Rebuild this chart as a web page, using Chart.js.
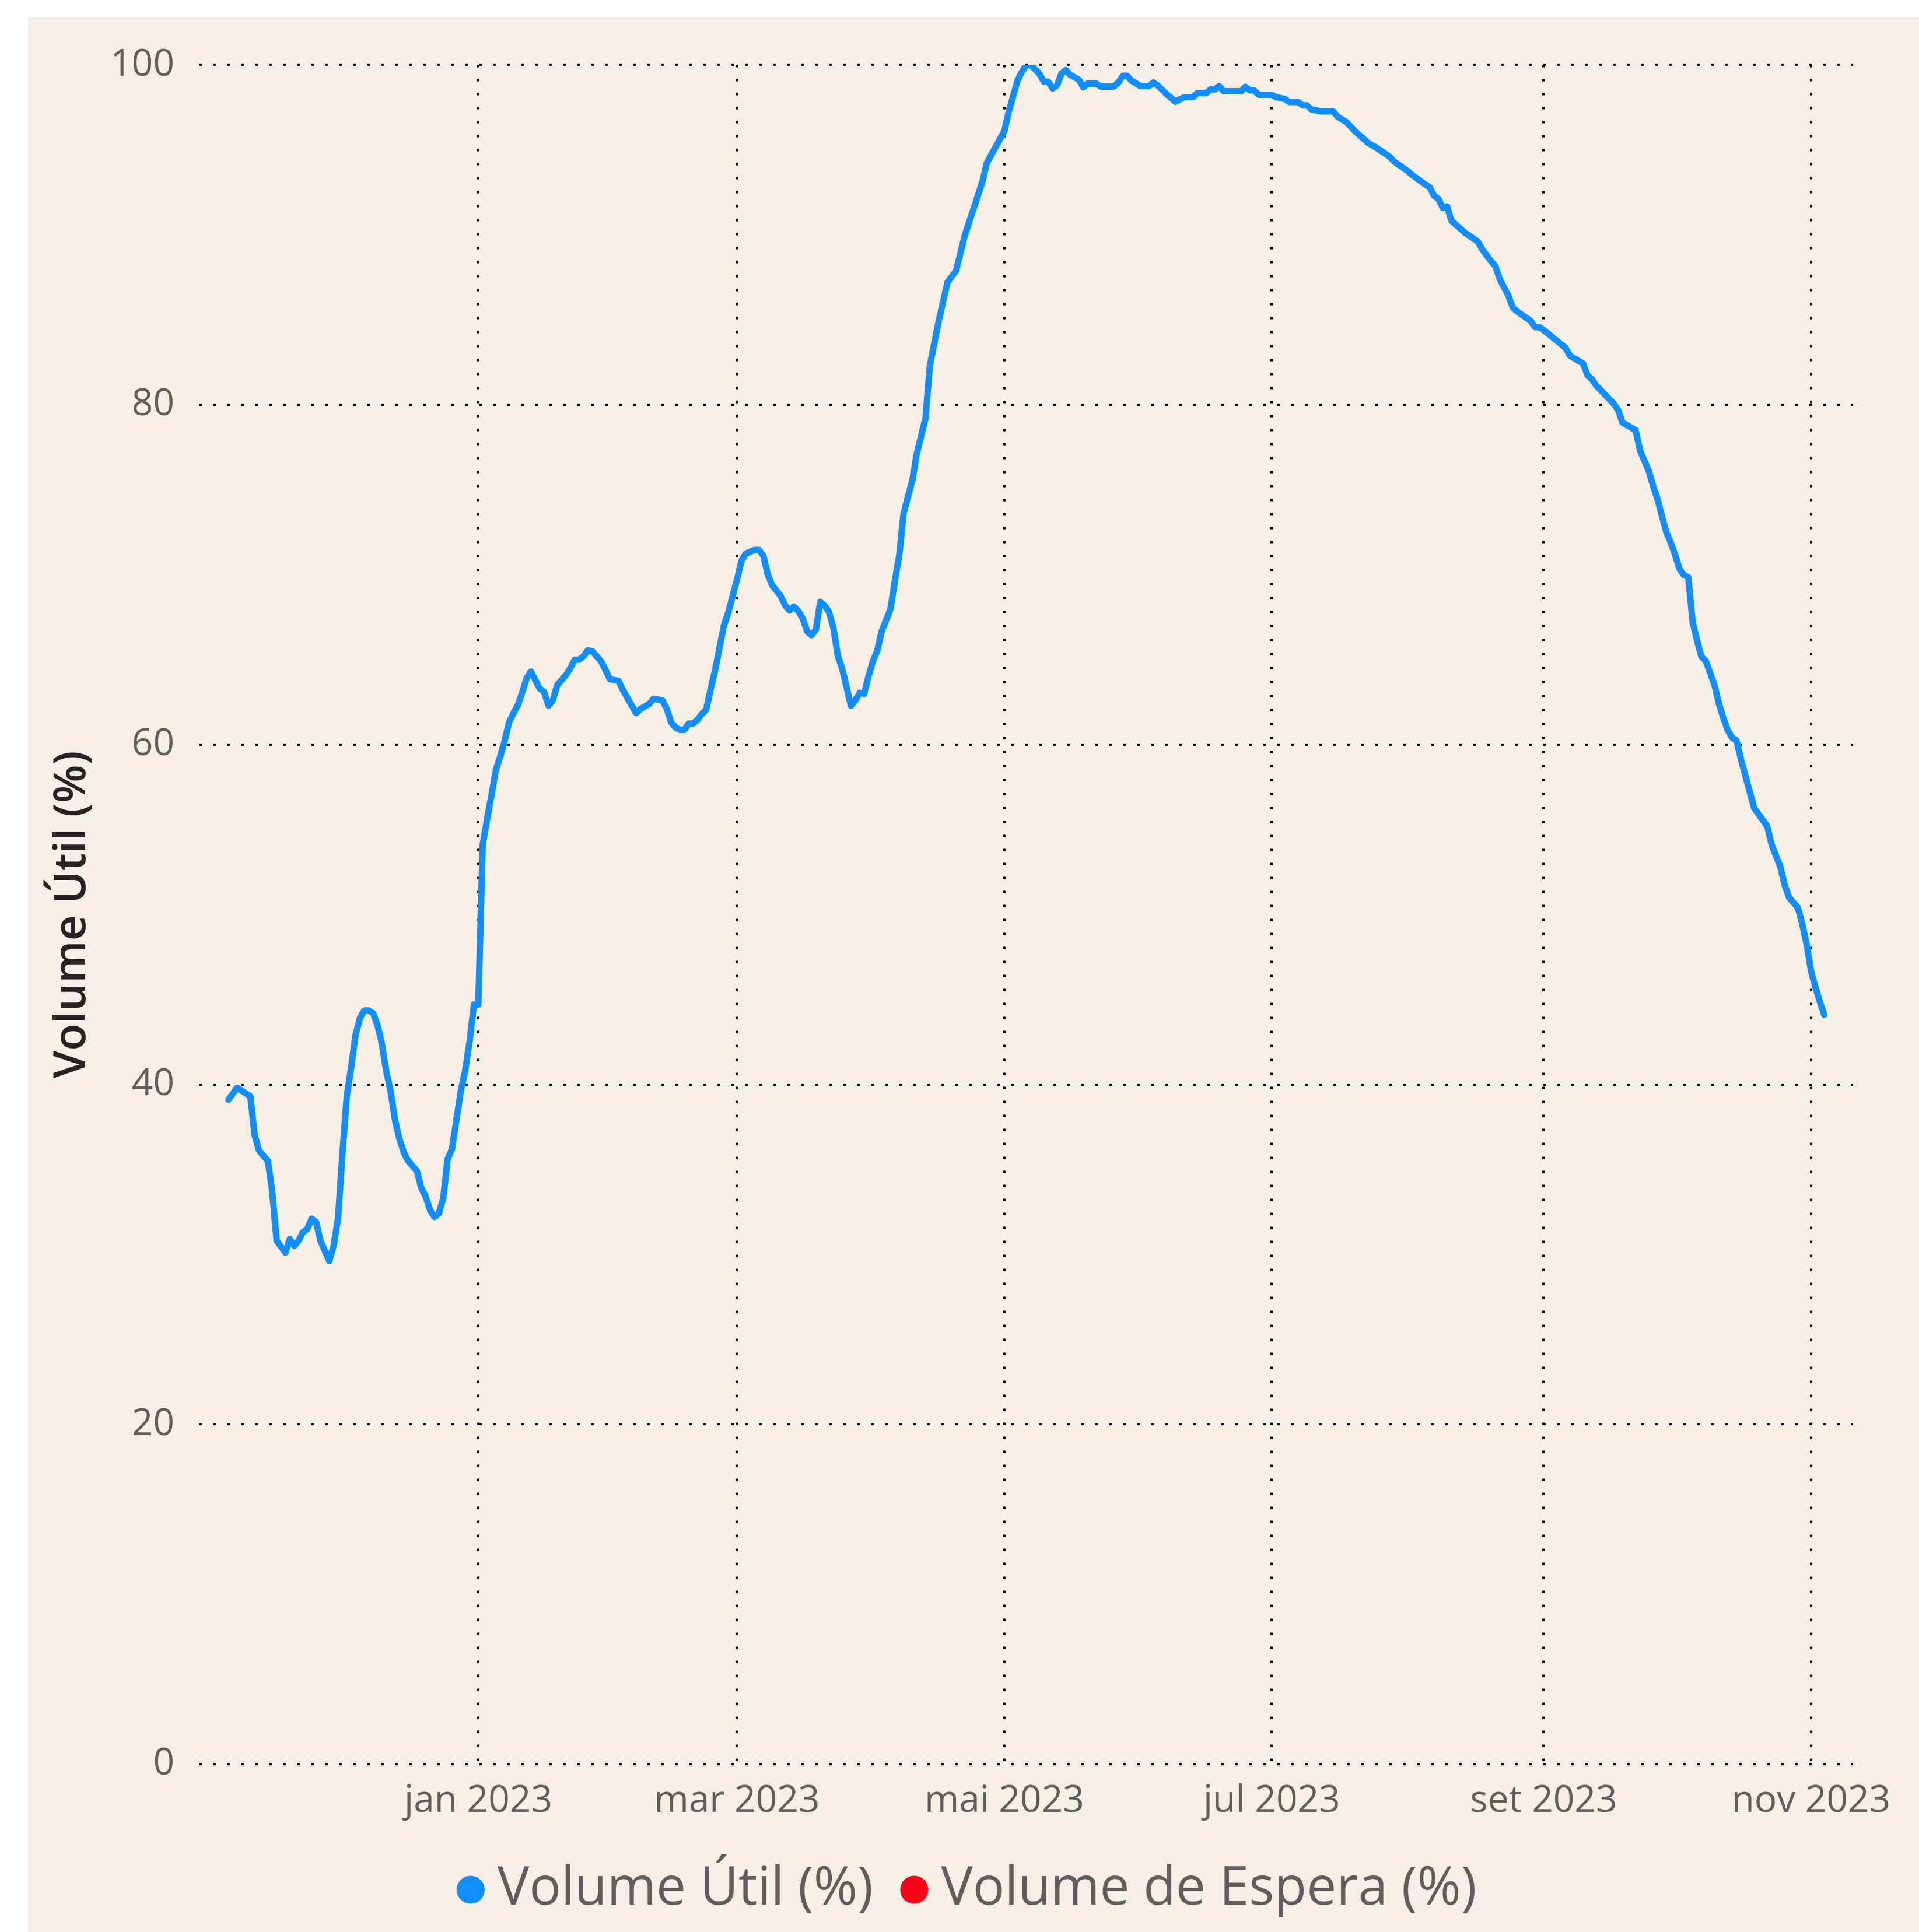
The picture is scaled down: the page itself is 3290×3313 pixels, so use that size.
<!DOCTYPE html>
<html>
<head>
<meta charset="utf-8">
<script src="https://cdn.jsdelivr.net/npm/chart.js@4.4.0/dist/chart.umd.min.js"></script>
<style>
  html, body { margin: 0; padding: 0; background: #ffffff; }
  #wrap { position: absolute; left: 48px; top: 30px; width: 3242px; height: 3283px; background: #F6EFE5; }
  canvas { display: block; }
</style>
</head>
<body>
<div id="wrap"><canvas id="chart" width="3242" height="3283"></canvas></div>
<script>
// ---- data ----
const dates = [
  '2022-11-05','2022-11-07','2022-11-10','2022-11-11','2022-11-12','2022-11-14','2022-11-15','2022-11-16',
  '2022-11-18','2022-11-19','2022-11-20','2022-11-21','2022-11-22','2022-11-23','2022-11-24','2022-11-25',
  '2022-11-26','2022-11-28','2022-11-29','2022-11-30','2022-12-01','2022-12-02','2022-12-03','2022-12-04',
  '2022-12-05','2022-12-06','2022-12-07','2022-12-08','2022-12-09','2022-12-10','2022-12-11','2022-12-12',
  '2022-12-13','2022-12-14','2022-12-15','2022-12-16','2022-12-18','2022-12-19','2022-12-20','2022-12-21',
  '2022-12-22','2022-12-23','2022-12-24','2022-12-25','2022-12-26','2022-12-27','2022-12-28','2022-12-29',
  '2022-12-30','2022-12-31','2023-01-01','2023-01-02','2023-01-03','2023-01-04','2023-01-05','2023-01-06',
  '2023-01-07','2023-01-08','2023-01-09','2023-01-10','2023-01-11','2023-01-12','2023-01-13','2023-01-14',
  '2023-01-15','2023-01-16','2023-01-17','2023-01-18','2023-01-19','2023-01-20','2023-01-21','2023-01-22',
  '2023-01-23','2023-01-24','2023-01-25','2023-01-26','2023-01-27','2023-01-28','2023-01-29','2023-01-30',
  '2023-01-31','2023-02-01','2023-02-02','2023-02-03','2023-02-06','2023-02-07','2023-02-09','2023-02-10',
  '2023-02-12','2023-02-13','2023-02-14','2023-02-15','2023-02-16','2023-02-17','2023-02-18','2023-02-19',
  '2023-02-20','2023-02-21','2023-02-22','2023-02-23','2023-02-24','2023-02-25','2023-02-26','2023-02-27',
  '2023-02-28','2023-03-01','2023-03-02','2023-03-03','2023-03-05','2023-03-06','2023-03-07','2023-03-08',
  '2023-03-09','2023-03-11','2023-03-12','2023-03-13','2023-03-14','2023-03-15','2023-03-16','2023-03-17',
  '2023-03-18','2023-03-19','2023-03-20','2023-03-21','2023-03-22','2023-03-23','2023-03-24','2023-03-25',
  '2023-03-26','2023-03-27','2023-03-28','2023-03-29','2023-03-30','2023-03-31','2023-04-01','2023-04-02',
  '2023-04-03','2023-04-05','2023-04-06','2023-04-07','2023-04-08','2023-04-10','2023-04-11','2023-04-13',
  '2023-04-14','2023-04-16','2023-04-18','2023-04-20','2023-04-22','2023-04-24','2023-04-26','2023-04-27',
  '2023-05-01','2023-05-02','2023-05-04','2023-05-05','2023-05-06','2023-05-07','2023-05-09','2023-05-10',
  '2023-05-11','2023-05-12','2023-05-13','2023-05-14','2023-05-15','2023-05-16','2023-05-18','2023-05-19',
  '2023-05-20','2023-05-22','2023-05-23','2023-05-26','2023-05-27','2023-05-28','2023-05-29','2023-05-30',
  '2023-06-01','2023-06-03','2023-06-04','2023-06-05','2023-06-07','2023-06-08','2023-06-09','2023-06-11',
  '2023-06-13','2023-06-14','2023-06-16','2023-06-17','2023-06-18','2023-06-19','2023-06-20','2023-06-24',
  '2023-06-25','2023-06-26','2023-06-27','2023-06-28','2023-07-01','2023-07-02','2023-07-04','2023-07-05',
  '2023-07-07','2023-07-08','2023-07-09','2023-07-10','2023-07-12','2023-07-15','2023-07-16','2023-07-18',
  '2023-07-20','2023-07-23','2023-07-25','2023-07-28','2023-07-29','2023-08-01','2023-08-02','2023-08-05',
  '2023-08-06','2023-08-07','2023-08-08','2023-08-09','2023-08-10','2023-08-11','2023-08-14','2023-08-17',
  '2023-08-18','2023-08-20','2023-08-21','2023-08-22','2023-08-24','2023-08-25','2023-08-26','2023-08-29',
  '2023-08-30','2023-08-31','2023-09-01','2023-09-06','2023-09-07','2023-09-10','2023-09-11','2023-09-12',
  '2023-09-13','2023-09-15','2023-09-17','2023-09-18','2023-09-19','2023-09-22','2023-09-23','2023-09-25',
  '2023-09-26','2023-09-27','2023-09-28','2023-09-29','2023-09-30','2023-10-01','2023-10-02','2023-10-03',
  '2023-10-04','2023-10-05','2023-10-06','2023-10-07','2023-10-08','2023-10-10','2023-10-11','2023-10-12',
  '2023-10-13','2023-10-14','2023-10-15','2023-10-16','2023-10-17','2023-10-18','2023-10-19','2023-10-21',
  '2023-10-22','2023-10-23','2023-10-25','2023-10-26','2023-10-27','2023-10-29','2023-10-30','2023-10-31',
  '2023-11-01','2023-11-02','2023-11-03','2023-11-04'
];

const volumeUtil = [
  39.1, 39.8, 39.3, 37.0, 36.1, 35.5, 33.7, 30.8,
  30.1, 30.9, 30.5, 30.8, 31.3, 31.5, 32.1, 31.9,
  30.8, 29.6, 30.5, 32.1, 35.9, 39.3, 41.0, 42.9,
  43.9, 44.35, 44.35, 44.2, 43.5, 42.4, 40.8, 39.6,
  37.9, 36.8, 36.0, 35.5, 34.9, 33.9, 33.4, 32.6,
  32.2, 32.4, 33.3, 35.6, 36.2, 37.9, 39.6, 40.8,
  42.5, 44.7, 44.7, 54.1, 55.6, 57.0, 58.5, 59.3,
  60.2, 61.3, 61.85, 62.3, 63.05, 63.9, 64.3, 63.8,
  63.3, 63.1, 62.3, 62.6, 63.5, 63.8, 64.1, 64.5,
  65.0, 65.0, 65.2, 65.55, 65.5, 65.2, 64.9, 64.4,
  63.85, 63.8, 63.75, 63.2, 61.85, 62.1, 62.4, 62.7,
  62.6, 62.1, 61.3, 61.0, 60.87, 60.87, 61.24, 61.24,
  61.46, 61.8, 62.07, 63.27, 64.36, 65.67, 66.98, 67.75,
  68.73, 69.7, 70.8, 71.24, 71.46, 71.46, 71.13, 70.04,
  69.39, 68.73, 68.18, 67.9, 68.12, 67.85, 67.42, 66.66,
  66.44, 66.77, 68.4, 68.18, 67.79, 66.87, 65.23, 64.47,
  63.38, 62.28, 62.61, 63.05, 62.98, 64.02, 64.9, 65.52,
  66.66, 67.96, 69.6, 71.1, 73.6, 75.56, 77.1, 79.2,
  82.3, 84.9, 87.2, 87.9, 90.0, 91.55, 93.15, 94.23,
  96.11, 97.25, 99.08, 99.59, 100.0, 100.0, 99.48, 99.02,
  99.02, 98.62, 98.79, 99.48, 99.7, 99.42, 99.13, 98.68,
  98.9, 98.9, 98.73, 98.73, 98.96, 99.36, 99.36, 99.08,
  98.76, 98.76, 98.96, 98.79, 98.28, 98.07, 97.84, 98.1,
  98.1, 98.34, 98.34, 98.56, 98.56, 98.76, 98.45, 98.45,
  98.71, 98.5, 98.5, 98.25, 98.25, 98.1, 98.0, 97.82,
  97.82, 97.62, 97.62, 97.39, 97.27, 97.27, 96.96, 96.64,
  96.1, 95.41, 95.11, 94.57, 94.3, 93.76, 93.53, 92.97,
  92.81, 92.31, 92.13, 91.59, 91.67, 90.83, 90.14, 89.61,
  89.15, 88.46, 88.16, 87.39, 86.4, 85.71, 85.49, 84.95,
  84.57, 84.57, 84.41, 83.35, 82.89, 82.43, 81.74, 81.51,
  81.13, 80.6, 80.06, 79.68, 78.95, 78.5, 77.31, 76.1,
  75.2, 74.44, 73.45, 72.49, 71.89, 71.17, 70.33, 69.97,
  69.85, 67.21, 66.13, 65.17, 64.93, 63.48, 62.4, 61.56,
  60.84, 60.41, 60.24, 59.16, 58.2, 57.24, 56.28, 55.56,
  55.2, 54.12, 52.8, 51.72, 51.0, 50.4, 49.44, 48.24,
  46.68, 45.72, 44.88, 44.1
];

const volumeEspera = [];   // series listed in the legend, no visible values

const seriesLabels = ['Volume Útil (%)', 'Volume de Espera (%)'];
const seriesColors = ['#118DFF', '#FA0014'];
const tickDates = ['2023-01-01', '2023-03-01', '2023-05-01', '2023-07-01', '2023-09-01', '2023-11-01'];
const tickLabels = ['jan 2023', 'mar 2023', 'mai 2023', 'jul 2023', 'set 2023', 'nov 2023'];
const yTickValues = [0, 20, 40, 60, 80, 100];
const yAxisTitle = 'Volume Útil (%)';
const axisStart = '2022-10-30';
const axisEnd = '2023-11-10';

// ---- helpers ----
const ORIGIN = Date.UTC(2023, 0, 1);
function dayNum(s) {
  const [y, m, d] = s.split('-').map(Number);
  return (Date.UTC(y, m - 1, d) - ORIGIN) / 86400000;
}
const tickDays = tickDates.map(dayNum);

const FONT = "'Open Sans', 'Noto Sans', sans-serif";
Chart.defaults.font.family = FONT;

const gridStyle = { color: '#000000', lineWidth: 4, drawTicks: false };
const borderStyle = { display: false, dash: [4, 20] };

new Chart(document.getElementById('chart'), {
  type: 'line',
  data: {
    datasets: [
      {
        label: seriesLabels[0],
        data: dates.map((d, i) => ({ x: dayNum(d), y: volumeUtil[i] })),
        borderColor: seriesColors[0],
        backgroundColor: seriesColors[0],
        borderWidth: 11,
        pointRadius: 0,
        tension: 0,
        borderCapStyle: 'round',
        borderJoinStyle: 'round'
      },
      {
        label: seriesLabels[1],
        data: volumeEspera,
        borderColor: seriesColors[1],
        backgroundColor: seriesColors[1],
        borderWidth: 11,
        pointRadius: 0
      }
    ]
  },
  options: {
    responsive: false,
    animation: false,
    devicePixelRatio: 1,
    layout: { padding: { left: 0, right: 0, top: 73, bottom: 17 } },
    plugins: {
      tooltip: { enabled: false },
      legend: {
        position: 'bottom',
        align: 'center',
        labels: {
          usePointStyle: true,
          pointStyle: 'circle',
          boxWidth: 1,
          boxHeight: 34,
          padding: 70,
          color: '#605E5C',
          font: { size: 91, family: FONT },
          generateLabels: (chart) => {
            const items = Chart.defaults.plugins.legend.labels.generateLabels(chart);
            items.forEach((it, i) => {
              it.fillStyle = seriesColors[i];
              it.strokeStyle = seriesColors[i];
              it.lineWidth = 0;
              it.pointStyle = 'circle';
              it.hidden = false;
            });
            return items;
          }
        }
      }
    },
    scales: {
      x: {
        type: 'linear',
        min: dayNum(axisStart) - 0.6,
        max: dayNum(axisEnd) + 0.6,
        afterBuildTicks: (scale) => { scale.ticks = tickDays.map(v => ({ value: v })); },
        afterFit: (scale) => { scale.height = 100; },
        ticks: {
          autoSkip: false,
          maxRotation: 0,
          padding: 25,
          color: '#605E5C',
          font: { size: 64, family: FONT },
          callback: (v) => { const i = tickDays.indexOf(v); return i >= 0 ? tickLabels[i] : ''; }
        },
        grid: gridStyle,
        border: borderStyle
      },
      y: {
        min: 0,
        max: 100,
        afterBuildTicks: (scale) => { scale.ticks = yTickValues.map(v => ({ value: v })); },
        afterFit: (scale) => { scale.width = 294; },
        ticks: {
          padding: 43,
          color: '#605E5C',
          font: { size: 64, family: FONT }
        },
        grid: gridStyle,
        border: borderStyle,
        title: {
          display: true,
          text: yAxisTitle,
          color: '#252423',
          font: { size: 76, weight: '600', family: FONT },
          padding: { top: 31, bottom: 0 }
        }
      },
      // empty right-hand spacer so the plot stops where the reference's does
      yRight: {
        position: 'right',
        display: true,
        min: 0,
        max: 100,
        afterFit: (scale) => { scale.width = 113; },
        ticks: { display: false },
        grid: { display: false, drawTicks: false },
        border: { display: false },
        title: { display: false }
      }
    }
  }
});
</script>
</body>
</html>
